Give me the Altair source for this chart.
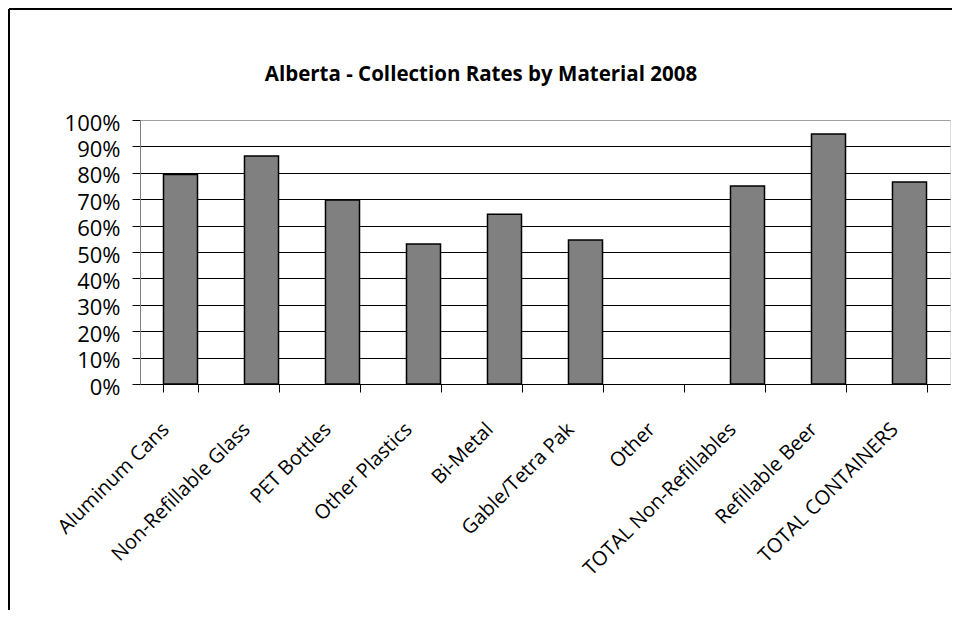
import altair as alt
import pandas as pd

categories = ["Aluminum Cans", "Non-Refillable Glass", "PET Bottles", "Other Plastics",
              "Bi-Metal", "Gable/Tetra Pak", "Other", "TOTAL Non-Refillables",
              "Refillable Beer", "TOTAL CONTAINERS"]
rates = [0.794, 0.864, 0.697, 0.530, 0.643, 0.545, 0.0, 0.750, 0.947, 0.765]
y_ticks = [0.0, 0.1, 0.2, 0.3, 0.4, 0.5, 0.6, 0.7, 0.8, 0.9, 1.0]
title_text = "Alberta - Collection Rates by Material 2008"

df = pd.DataFrame({"Material": categories, "Rate": rates})
one_row = pd.DataFrame({"label": [title_text]})

FONT = "Open Sans"

bars = alt.Chart(df).mark_bar(color="#808080", stroke="black").encode(
    x=alt.X("Material:N", sort=categories,
            scale=alt.Scale(paddingInner=0.58, paddingOuter=0.29),
            axis=alt.Axis(title=None, labelAngle=-45, labelAlign="right",
                          labelBaseline="middle", labelOffset=-15, labelPadding=34,
                          labelFont=FONT, labelFontSize=20, labelColor="black",
                          tickBand="extent", tickSize=8, tickColor="black",
                          domainColor="black", labelLimit=400, grid=False)),
    y=alt.Y("Rate:Q", scale=alt.Scale(domain=[0, 1], nice=False),
            axis=alt.Axis(title=None, values=y_ticks, format=".0%",
                          labelFont=FONT, labelFontSize=22, labelColor="black",
                          labelPadding=12, labelOffset=3,
                          tickSize=8, tickColor="black", domainColor="#808080",
                          grid=True,
                          gridColor=alt.condition("datum.value >= 1", alt.value("#a0a0a0"), alt.value("black")),
                          gridOpacity=1, gridWidth=1)),
    strokeWidth=alt.condition("datum.Rate > 0", alt.value(1.5), alt.value(0)),
)

title = alt.Chart(one_row).mark_text(
    font=FONT, fontSize=20.5, fontWeight="bold", color="black",
    align="center", baseline="middle"
).encode(text="label:N", x=alt.value(341), y=alt.value(-45))

frame_left = alt.Chart(one_row).mark_rule(color="black", strokeWidth=2).encode(
    x=alt.value(-131), y=alt.value(-111), y2=alt.value(520))
frame_top = alt.Chart(one_row).mark_rule(color="black", strokeWidth=2).encode(
    x=alt.value(-131), x2=alt.value(830), y=alt.value(-111))

chart = alt.layer(bars, title, frame_left, frame_top).properties(
    width=810, height=264,
    autosize=alt.AutoSizeParams(type="none"),
    padding={"left": 132, "top": 112, "right": 2, "bottom": 226},
).configure_view(stroke="#a0a0a0", strokeWidth=1).configure(background="white")

chart.save("out.html", embed_options={"renderer": "svg", "actions": False})
